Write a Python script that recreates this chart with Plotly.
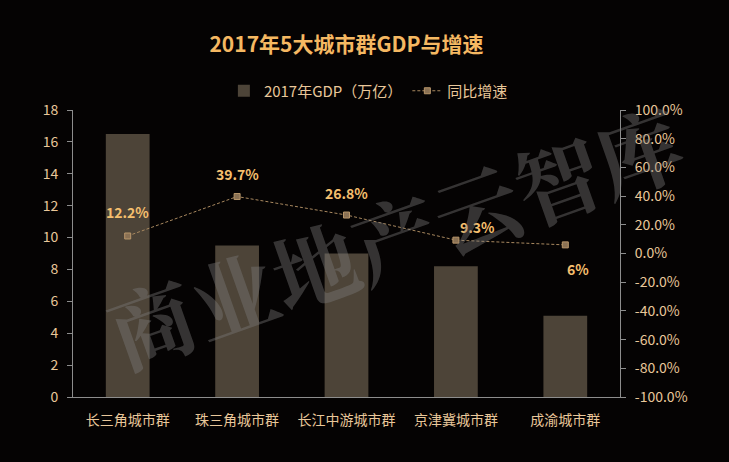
import plotly.graph_objects as go

categories = ["长三角城市群", "珠三角城市群", "长江中游城市群", "京津冀城市群", "成渝城市群"]
gdp = [16.5, 9.5, 9.0, 8.2, 5.1]
growth = [12.2, 39.7, 26.8, 9.3, 6.0]
growth_labels = ["12.2%", "39.7%", "26.8%", "9.3%", "6%"]
label_shift_x = [0, 0, 0, 22, 13]
label_shift_y = [24, 23, 22, 13, -24]
left_ticks = list(range(0, 19, 2))
right_ticks = list(range(-100, 101, 20))

FONT = "Noto Sans CJK SC"
TICK_COLOR = "#e9c79a"

fig = go.Figure()
fig.add_trace(go.Bar(
    x=categories, y=gdp, name="2017年GDP（万亿）",
    marker=dict(color="#4d4438", line=dict(width=0)),
    width=0.4, yaxis="y",
))
fig.add_trace(go.Scatter(
    x=categories, y=growth, name="同比增速", yaxis="y2",
    mode="lines+markers",
    line=dict(color="#a8885f", width=1, dash="3px,2px"),
    marker=dict(symbol="square", size=6, color="#8a7154",
                line=dict(color="#b8966a", width=1)),
))

for c, g, t, dx, dy in zip(categories, growth, growth_labels, label_shift_x, label_shift_y):
    fig.add_annotation(x=c, y=g, yref="y2", xref="x", text=t, showarrow=False,
                       xshift=dx, yshift=dy,
                       font=dict(family=FONT, size=14, color="#f5bf6e", weight="bold"))

# watermark
fig.add_annotation(xref="paper", yref="paper", x=(395 - 73) / 547, y=(397 - 235) / 287,
                   text="商业地产云智库", showarrow=False, textangle=-19.5,
                   font=dict(family="Noto Serif CJK SC, " + FONT, size=86,
                             color="rgba(125,125,125,0.40)", weight="bold"))

fig.update_layout(
    width=729, height=462,
    paper_bgcolor="#050303", plot_bgcolor="#050303",
    margin=dict(l=73, r=109, t=110, b=65),
    title=dict(text="2017年5大城市群GDP与增速", x=0.5, xref="paper", y=1 - 45 / 462, yanchor="middle",
               font=dict(family=FONT, size=21, color="#f5b862", weight="bold")),
    font=dict(family=FONT, color=TICK_COLOR),
    showlegend=True,
    legend=dict(orientation="h", x=0.54, xanchor="center", y=1 + 19 / 287, yanchor="middle",
                font=dict(family=FONT, size=15, color=TICK_COLOR), bgcolor="rgba(0,0,0,0)",
                tracegroupgap=0),
    bargap=0.6,
    xaxis=dict(showgrid=False, showline=True, linecolor="#8d8d8d", linewidth=1,
               tickfont=dict(family=FONT, size=14, color=TICK_COLOR), ticks="",
               ticklabelstandoff=10),
    yaxis=dict(range=[0, 18], tickvals=left_ticks, showgrid=False, showline=True,
               linecolor="#8d8d8d", ticks="outside", ticklen=5, tickcolor="#8d8d8d",
               tickfont=dict(family=FONT, size=14, color=TICK_COLOR), zeroline=False,
               ticklabelstandoff=6),
    yaxis2=dict(range=[-100, 100], tickvals=right_ticks,
                ticktext=[f"{v:.1f}%" for v in right_ticks],
                overlaying="y", side="right", showgrid=False, showline=True,
                linecolor="#8d8d8d", ticks="outside", ticklen=5, tickcolor="#8d8d8d",
                tickfont=dict(family=FONT, size=14, color=TICK_COLOR), zeroline=False,
                ticklabelstandoff=6),
)

fig.write_html("out.html", config={"displayModeBar": False},
               post_script="document.body.style.margin='0';document.body.style.background='#050303';")
